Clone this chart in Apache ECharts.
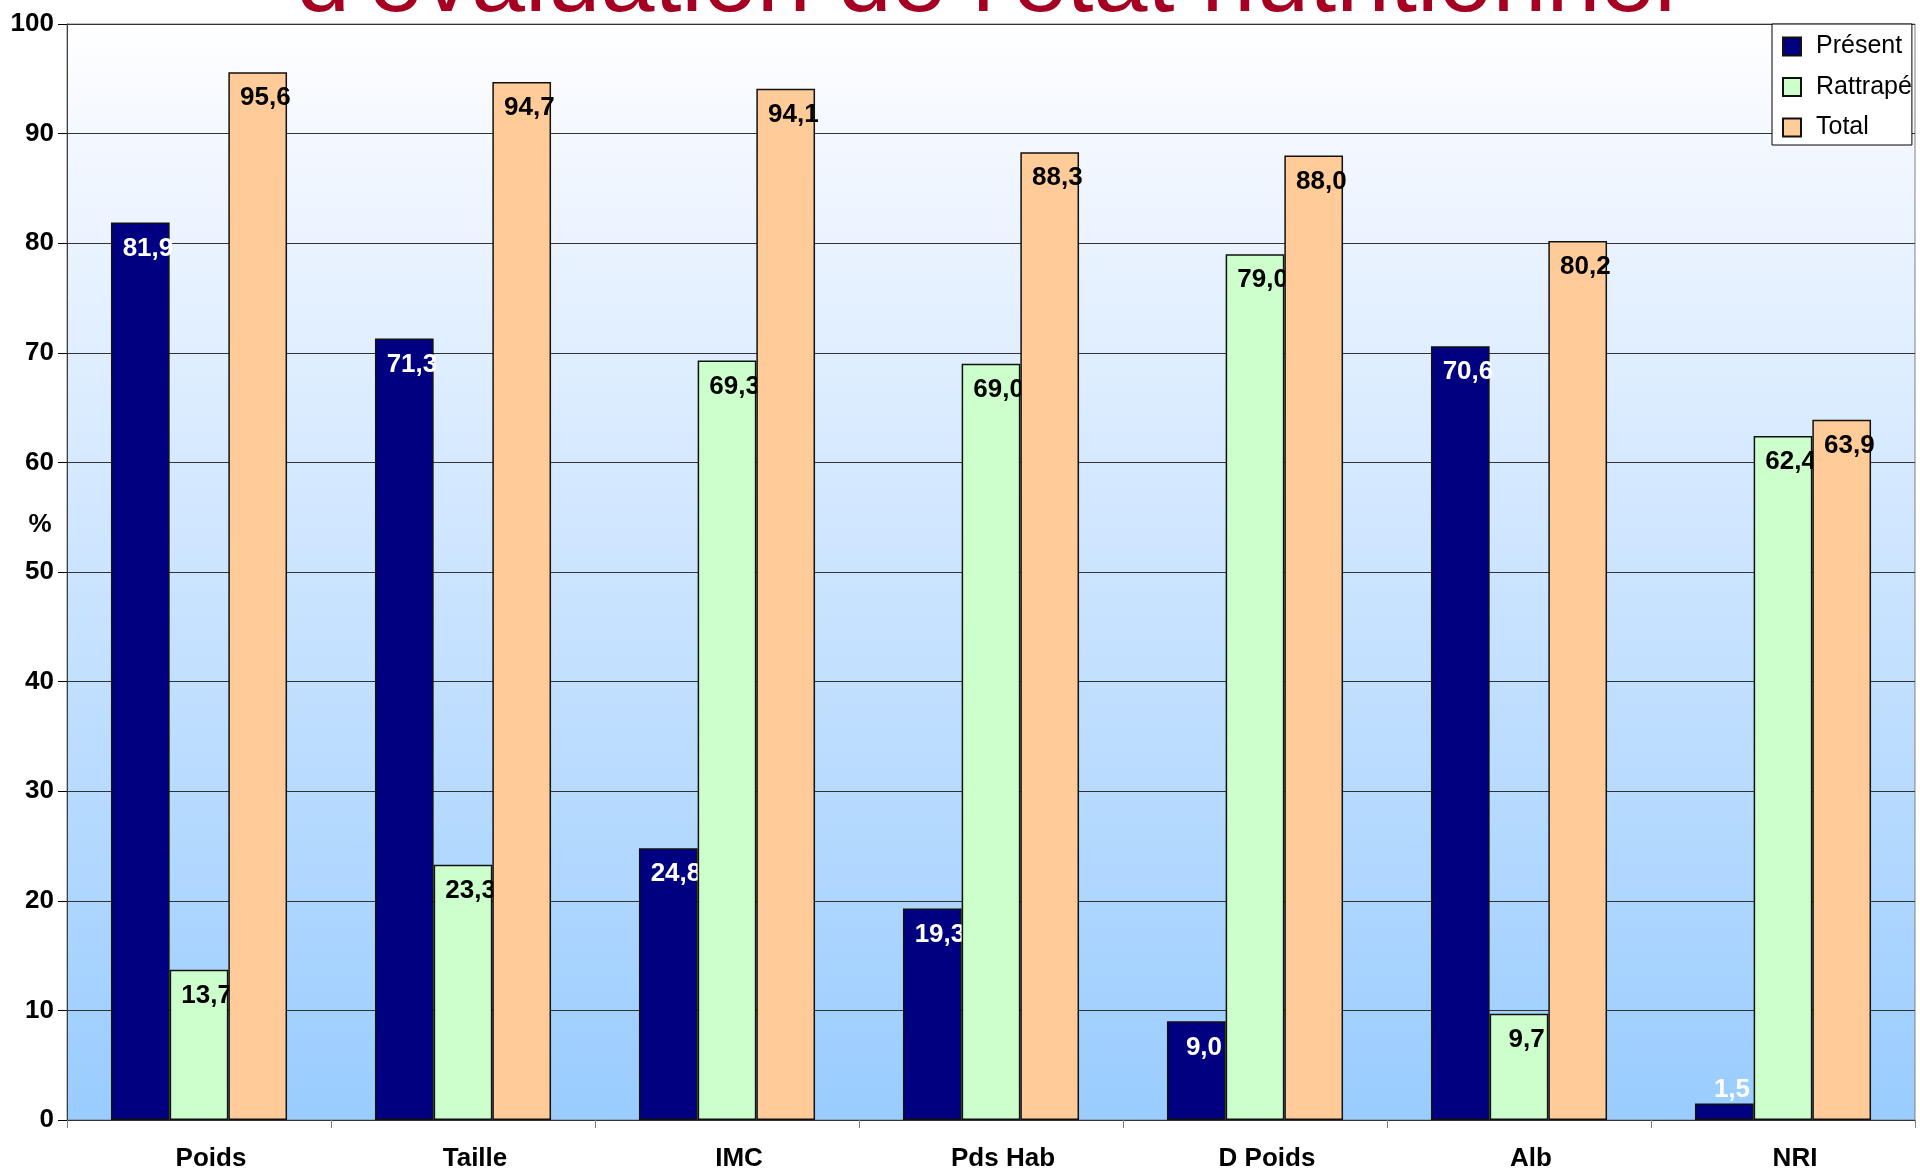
<!DOCTYPE html>
<html>
<head>
<meta charset="utf-8">
<script src="https://cdn.jsdelivr.net/npm/echarts@6/dist/echarts.min.js"></script>
<style>
html,body{margin:0;padding:0;background:#fff;}
#chart{width:1920px;height:1170px;}
</style>
</head>
<body>
<div id="chart"></div>
<script>
var categories = ['Poids', 'Taille', 'IMC', 'Pds Hab', 'D Poids', 'Alb', 'NRI'];
var present = [81.9, 71.3, 24.8, 19.3, 9.0, 70.6, 1.5];
var rattrape = [13.7, 23.3, 69.3, 69.0, 79.0, 9.7, 62.4];
var total = [95.6, 94.7, 94.1, 88.3, 88.0, 80.2, 63.9];
var seriesNames = ['Présent', 'Rattrapé', 'Total'];
var yTicks = [0, 100, 10];
var titleText = "d'évaluation de l'état nutritionnel";

var FONT = "'Liberation Sans', Arial, sans-serif";
var colors = ['#000080', '#CCFFCC', '#FFCC99'];
var labelColors = ['#ffffff', '#000000', '#000000'];

function fmt(v) { return v.toFixed(1).replace('.', ','); }

function buildData(arr) {
  return arr.map(function (v) {
    if (v < 5) {
      return { value: v, label: { position: [37, -27] } };
    }
    return v;
  });
}

var all = [present, rattrape, total];
var series = all.map(function (arr, i) {
  return {
    name: seriesNames[i],
    type: 'bar',
    z: 2 + i,
    barGap: '0%',
    barCategoryGap: '33.3%',
    data: buildData(arr),
    itemStyle: { color: colors[i], borderColor: '#111', borderWidth: 1.5 },
    label: {
      show: true,
      position: [37, 13],
      align: 'center',
      verticalAlign: 'top',
      color: labelColors[i],
      fontFamily: FONT,
      fontWeight: 'bold',
      fontSize: 26,
      formatter: function (p) { return fmt(p.value); }
    },
    emphasis: { disabled: true },
    animation: false
  };
});

var chart = echarts.init(document.getElementById('chart'), null, { renderer: 'canvas' });
chart.setOption({
  animation: false,
  backgroundColor: '#ffffff',
  textStyle: { fontFamily: FONT },
  grid: {
    left: 67, right: 5, top: 24, bottom: 50,
    outerBoundsMode: 'none',
    containLabel: false,
    show: true,
    borderColor: '#808080',
    borderWidth: 1,
    backgroundColor: {
      type: 'linear', x: 0, y: 0, x2: 0, y2: 1,
      colorStops: [
        { offset: 0, color: '#ffffff' },
        { offset: 0.08, color: '#f6f9ff' },
        { offset: 1, color: '#99CCFF' }
      ]
    }
  },
  legend: {
    orient: 'vertical',
    left: 1772,
    top: 24,
    padding: [10, 0, 5, 10],
    itemWidth: 18,
    itemHeight: 18,
    itemGap: 15.5,
    backgroundColor: '#ffffff',
    borderColor: '#000000',
    borderWidth: 1,
    selectedMode: false,
    icon: 'rect',
    textStyle: { fontFamily: FONT, fontSize: 25, color: '#000', padding: [0, 0, 0, 10] },
    data: seriesNames
  },
  xAxis: {
    type: 'category',
    data: categories,
    axisLine: { lineStyle: { color: '#333', width: 1 } },
    axisTick: { show: true, length: 8, lineStyle: { color: '#808080' } },
    axisLabel: { margin: 26, padding: [0, 0, 0, 24], color: '#000', fontFamily: FONT, fontWeight: 'bold', fontSize: 26 }
  },
  yAxis: {
    type: 'value',
    min: yTicks[0],
    max: yTicks[1],
    interval: yTicks[2],
    axisLine: { show: true, lineStyle: { color: '#404040', width: 1 } },
    axisTick: { show: true, length: 9, lineStyle: { color: '#000' } },
    splitLine: { show: true, lineStyle: { color: '#333333', width: 1 } },
    axisLabel: { margin: 13, color: '#000', fontFamily: FONT, fontWeight: 'bold', fontSize: 26 }
  },
  graphic: [
    {
      type: 'text',
      x: 986,
      y: -16,
      z: 0,
      style: {
        text: titleText,
        fill: '#A50021',
        font: 'normal 97px ' + FONT,
        align: 'center',
        verticalAlign: 'middle',
        textShadowColor: '#B3B3B3',
        textShadowOffsetX: 4,
        textShadowOffsetY: 4,
        textShadowBlur: 0
      }
    },
    {
      type: 'text',
      x: 40,
      y: 525,
      style: {
        text: '%',
        fill: '#000',
        font: 'bold 26px ' + FONT,
        align: 'center',
        verticalAlign: 'middle'
      }
    }
  ],
  series: series
});
</script>
</body>
</html>
